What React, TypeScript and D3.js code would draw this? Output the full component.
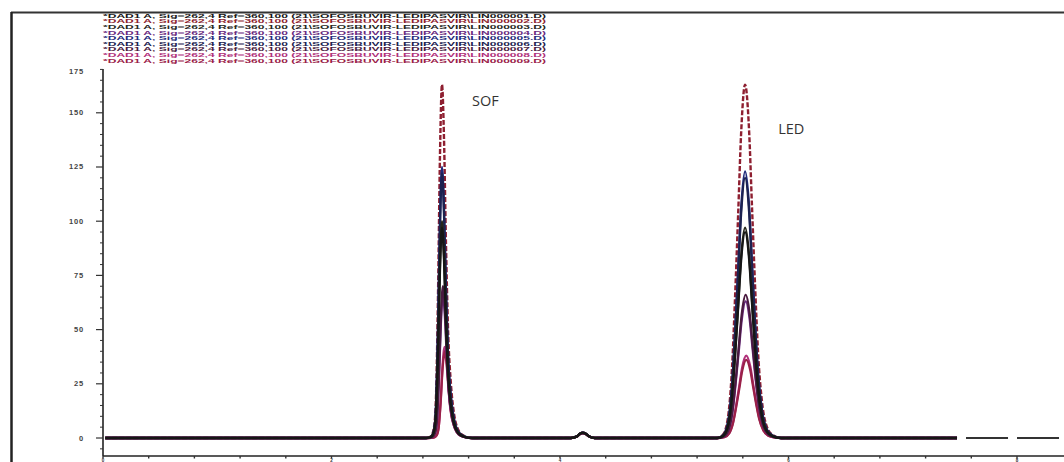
import React from "react";
import * as d3 from "d3";

const W = 1064;
const H = 462;

// ---- data ----
const legendLabels = [
  "*DAD1 A, Sig=262,4 Ref=360,100 (21\\SOFOSBUVIR-LEDIPASVIR\\LIN000001.D)",
  "*DAD1 A, Sig=262,4 Ref=360,100 (21\\SOFOSBUVIR-LEDIPASVIR\\LIN000002.D)",
  "*DAD1 A, Sig=262,4 Ref=360,100 (21\\SOFOSBUVIR-LEDIPASVIR\\LIN000003.D)",
  "*DAD1 A, Sig=262,4 Ref=360,100 (21\\SOFOSBUVIR-LEDIPASVIR\\LIN000004.D)",
  "*DAD1 A, Sig=262,4 Ref=360,100 (21\\SOFOSBUVIR-LEDIPASVIR\\LIN000005.D)",
  "*DAD1 A, Sig=262,4 Ref=360,100 (21\\SOFOSBUVIR-LEDIPASVIR\\LIN000006.D)",
  "*DAD1 A, Sig=262,4 Ref=360,100 (21\\SOFOSBUVIR-LEDIPASVIR\\LIN000007.D)",
  "*DAD1 A, Sig=262,4 Ref=360,100 (21\\SOFOSBUVIR-LEDIPASVIR\\LIN000008.D)",
  "*DAD1 A, Sig=262,4 Ref=360,100 (21\\SOFOSBUVIR-LEDIPASVIR\\LIN000009.D)",
];
const traceColors = ["#161616", "#8e1f30", "#26261c", "#6a2a80", "#1f2a7a", "#1c2250", "#4a1a40", "#b0307a", "#9a2048"];
const traceDashed = [false, true, false, false, false, false, false, false, false];
const drawOrder = [1, 4, 5, 7, 8, 3, 6, 2, 0];

// peak heights (mAU) per trace
const sofHeights = [97, 163, 100, 66, 125, 122, 70, 42, 40];
const ledHeights = [95, 163, 97, 63, 123, 120, 66, 38, 36];
const impurityHeights = [2.5, 2.5, 2.4, 2.3, 2.5, 2.5, 2.3, 2.2, 2.2];
// retention times (min) per trace
const sofTimes = [2.967, 2.967, 2.967, 2.975, 2.967, 2.967, 2.975, 2.99, 2.99];
const ledTimes = [5.62, 5.62, 5.62, 5.625, 5.62, 5.62, 5.625, 5.63, 5.63];
const impurityTime = 4.2;

// peak shapes: [offset from apex (min), fraction of apex height]
const sofProfile: [number, number][] = [
  [-0.14, 0], [-0.096, 0.005], [-0.07, 0.03], [-0.052, 0.12], [-0.035, 0.4], [-0.0175, 0.8],
  [0, 1], [0.0175, 0.85], [0.035, 0.55], [0.052, 0.32], [0.079, 0.15], [0.105, 0.07],
  [0.14, 0.025], [0.193, 0.006], [0.263, 0],
];
const ledProfile: [number, number][] = [
  [-0.245, 0], [-0.193, 0.01], [-0.149, 0.06], [-0.114, 0.2], [-0.0875, 0.4], [-0.061, 0.63],
  [-0.035, 0.86], [0, 1], [0.035, 0.87], [0.061, 0.65], [0.0875, 0.43], [0.114, 0.24],
  [0.149, 0.1], [0.193, 0.03], [0.245, 0.008], [0.315, 0],
];
const impurityProfile: [number, number][] = [
  [-0.105, 0], [-0.052, 0.3], [-0.026, 0.8], [0, 1], [0.026, 0.8], [0.052, 0.35], [0.105, 0],
];

const runStart = 0.02;
const runEnd = 7.475;
const tailEnd = 8.38;

const yTicks = [0, 25, 50, 75, 100, 125, 150, 175];
const yMinorStep = 5;
const xTicks = [0, 2, 4, 6, 8];
const xMinorStep = 0.4;

const peakLabels = [
  { name: "SOF", t: 3.23, v: 153 },
  { name: "LED", t: 5.91, v: 140 },
];

// ---- layout ----
const axisX = 103;
const axisTop = 69;
const axisBottom = 456;

const x = d3.scaleLinear().domain([0, 8.4]).range([103, 103 + 8.4 * 114.25]);
const y = d3.scaleLinear().domain([-8.3, 170.2]).range([axisBottom, axisTop]);

function buildTrace(i: number): [number, number][] {
  const pts: [number, number][] = [[runStart, 0]];
  sofProfile.forEach(([dt, f]) => pts.push([sofTimes[i] + dt, sofHeights[i] * f]));
  impurityProfile.forEach(([dt, f]) => pts.push([impurityTime + dt, impurityHeights[i] * f]));
  ledProfile.forEach(([dt, f]) => pts.push([ledTimes[i] + dt, ledHeights[i] * f]));
  pts.push([runEnd, 0]);
  return pts.sort((a, b) => a[0] - b[0]);
}

const line = d3
  .line<[number, number]>()
  .x((d) => x(d[0]))
  .y((d) => y(d[1]))
  .curve(d3.curveMonotoneX);

export default function App() {
  const yMinor = d3.range(-5, 170.01, yMinorStep).filter((v) => v % 25 !== 0);
  const xMinor = d3.range(0, 8.4, xMinorStep).filter((v) => Math.abs(v / 2 - Math.round(v / 2)) > 1e-6);
  const labelFont = "'Liberation Sans', Arial, sans-serif";
  return (
    <svg
      width={W}
      height={H}
      viewBox={`0 0 ${W} ${H}`}
      style={{ position: "absolute", left: 0, top: 0, background: "#fff" }}
    >
      <rect x={0} y={0} width={W} height={H} fill="#fff" />
      {/* frame */}
      <line x1={11} y1={12.5} x2={W} y2={12.5} stroke="#333" strokeWidth={2} />
      <line x1={11.5} y1={12} x2={11.5} y2={H} stroke="#222" strokeWidth={2.5} />

      {/* legend */}
      {legendLabels.map((t, i) => (
        <text
          key={i}
          x={103}
          y={17.8 + i * 5.6}
          fontSize={5.8}
          fontWeight="bold"
          fontFamily={labelFont}
          fill={traceColors[i]}
          textLength={443}
          lengthAdjust="spacingAndGlyphs"
        >
          {t}
        </text>
      ))}

      {/* y axis */}
      <line x1={axisX} y1={axisTop} x2={axisX} y2={axisBottom} stroke="#222" strokeWidth={1.6} />
      {yTicks.map((v) => {
        const yy = Math.max(y(v), axisTop + 2);
        return (
          <g key={v}>
            {v <= 170 && <line x1={axisX - 7} y1={y(v)} x2={axisX} y2={y(v)} stroke="#333" strokeWidth={1.2} />}
            <text
              x={84}
              y={yy + 2.5}
              textAnchor="end"
              fontSize={7.5}
              fontWeight="bold"
              fontFamily={labelFont}
              fill="#444"
              letterSpacing={0.8}
            >
              {v}
            </text>
          </g>
        );
      })}
      {yMinor.map((v) => (
        <line key={v} x1={axisX - 3} y1={y(v)} x2={axisX} y2={y(v)} stroke="#333" strokeWidth={1} />
      ))}

      {/* x axis */}
      <line x1={axisX} y1={axisBottom} x2={W} y2={axisBottom} stroke="#222" strokeWidth={1.6} />
      {xTicks.map((v) => (
        <g key={v}>
          <line x1={x(v)} y1={axisBottom} x2={x(v)} y2={axisBottom + 2.5} stroke="#333" strokeWidth={1.4} />
          <text
            x={x(v)}
            y={461.5}
            textAnchor="middle"
            fontSize={4.5}
            fontWeight="bold"
            fontFamily={labelFont}
            fill="#333"
          >
            {v}
          </text>
        </g>
      ))}
      {xMinor.map((v) => (
        <line key={v} x1={x(v)} y1={axisBottom} x2={x(v)} y2={axisBottom + 2.5} stroke="#333" strokeWidth={1.4} />
      ))}

      {/* traces */}
      {drawOrder.map((i) => (
        <path
          key={i}
          d={line(buildTrace(i)) || ""}
          fill="none"
          stroke={traceColors[i]}
          strokeWidth={traceDashed[i] ? 2.4 : 2.3}
          strokeDasharray={traceDashed[i] ? "5 2" : undefined}
          strokeLinejoin="round"
        />
      ))}
      {/* baseline continuation */}
      <path
        d={line([[runEnd, 0], [tailEnd, 0]]) || ""}
        fill="none"
        stroke="#333"
        strokeWidth={1.8}
        strokeDasharray="42 9"
        strokeDashoffset={42}
      />

      {/* peak labels */}
      {peakLabels.map((p) => (
        <text
          key={p.name}
          x={x(p.t)}
          y={y(p.v)}
          fontSize={14.5}
          fontFamily="'Open Sans', Lato, sans-serif"
          fill="#333"
        >
          {p.name}
        </text>
      ))}
    </svg>
  );
}
